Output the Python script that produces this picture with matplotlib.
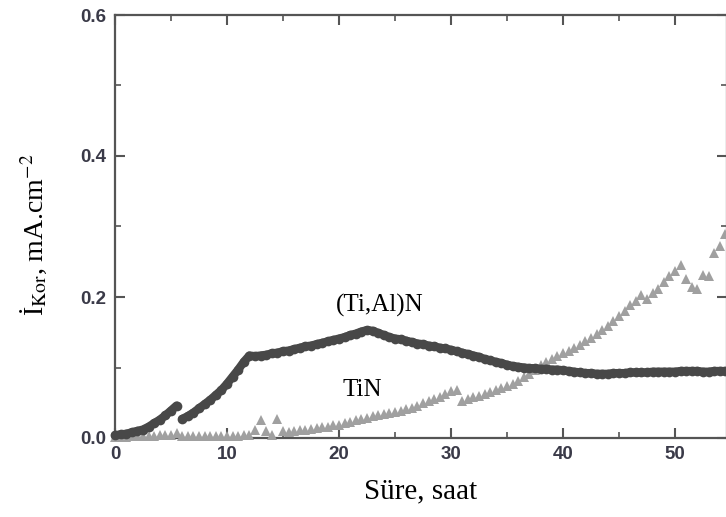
import matplotlib
matplotlib.use("Agg")
import matplotlib.pyplot as plt
from matplotlib.ticker import MultipleLocator

# (Ti,Al)N kaplama - iki parca (5.5 saatte kesinti)
tial_t1 = [0, 0.5, 1.0, 1.5, 2.0, 2.5, 3.0, 3.5, 4.0, 4.5, 5.0, 5.5]
tial_i1 = [0.004, 0.005, 0.006, 0.008, 0.010, 0.012, 0.016, 0.021, 0.026, 0.032, 0.039, 0.046]

tial_t2 = [6.0, 6.5, 7.0, 7.5, 8.0, 8.5, 9.0, 9.5, 10.0, 10.5, 11.0, 11.5, 12.0, 12.5,
           13.0, 13.5, 14.0, 14.5, 15.0, 15.5, 16.0, 16.5, 17.0, 17.5, 18.0, 18.5, 19.0,
           19.5, 20.0, 20.5, 21.0, 21.5, 22.0, 22.5, 23.0, 23.5, 24.0, 24.5, 25.0, 25.5,
           26.0, 26.5, 27.0, 27.5, 28.0, 28.5, 29.0, 29.5, 30.0, 30.5, 31.0, 31.5, 32.0,
           32.5, 33.0, 33.5, 34.0, 34.5, 35.0, 35.5, 36.0, 36.5, 37.0, 37.5, 38.0, 38.5,
           39.0, 39.5, 40.0, 40.5, 41.0, 41.5, 42.0, 42.5, 43.0, 43.5, 44.0, 44.5, 45.0,
           45.5, 46.0, 46.5, 47.0, 47.5, 48.0, 48.5, 49.0, 49.5, 50.0, 50.5, 51.0, 51.5,
           52.0, 52.5, 53.0, 53.5, 54.0, 54.5]
tial_i2 = [0.027, 0.031, 0.036, 0.042, 0.048, 0.054, 0.061, 0.068, 0.077, 0.087, 0.097,
           0.108, 0.117, 0.116, 0.117, 0.118, 0.120, 0.121, 0.123, 0.124, 0.126, 0.128,
           0.130, 0.131, 0.133, 0.135, 0.137, 0.139, 0.141, 0.143, 0.146, 0.148, 0.151,
           0.153, 0.152, 0.149, 0.146, 0.143, 0.141, 0.140, 0.138, 0.136, 0.134, 0.133,
           0.131, 0.130, 0.128, 0.127, 0.125, 0.123, 0.121, 0.119, 0.117, 0.115, 0.112,
           0.110, 0.108, 0.106, 0.104, 0.102, 0.101, 0.100, 0.099, 0.099, 0.098, 0.098,
           0.097, 0.097, 0.096, 0.095, 0.094, 0.093, 0.092, 0.092, 0.091, 0.091, 0.091,
           0.092, 0.092, 0.092, 0.093, 0.093, 0.093, 0.093, 0.094, 0.094, 0.094, 0.094,
           0.094, 0.095, 0.095, 0.095, 0.095, 0.094, 0.094, 0.095, 0.095, 0.095]

# TiN kaplama
tin_t = [0, 0.5, 1.0, 1.5, 2.0, 2.5, 3.0, 3.5, 4.0, 4.5, 5.0, 5.5, 6.0, 6.5, 7.0, 7.5,
         8.0, 8.5, 9.0, 9.5, 10.0, 10.5, 11.0, 11.5, 12.0, 12.5, 13.0, 13.5, 14.0, 14.5,
         15.0, 15.5, 16.0, 16.5, 17.0, 17.5, 18.0, 18.5, 19.0, 19.5, 20.0, 20.5, 21.0,
         21.5, 22.0, 22.5, 23.0, 23.5, 24.0, 24.5, 25.0, 25.5, 26.0, 26.5, 27.0, 27.5,
         28.0, 28.5, 29.0, 29.5, 30.0, 30.5, 31.0, 31.5, 32.0, 32.5, 33.0, 33.5, 34.0,
         34.5, 35.0, 35.5, 36.0, 36.5, 37.0, 37.5, 38.0, 38.5, 39.0, 39.5, 40.0, 40.5,
         41.0, 41.5, 42.0, 42.5, 43.0, 43.5, 44.0, 44.5, 45.0, 45.5, 46.0, 46.5, 47.0,
         47.5, 48.0, 48.5, 49.0, 49.5, 50.0, 50.5, 51.0, 51.5, 52.0, 52.5, 53.0, 53.5,
         54.0, 54.5]
tin_i = [0.002, 0.002, 0.002, 0.003, 0.003, 0.003, 0.003, 0.003, 0.004, 0.004, 0.004,
         0.007, 0.003, 0.003, 0.003, 0.003, 0.003, 0.003, 0.003, 0.003, 0.003, 0.003,
         0.003, 0.004, 0.004, 0.012, 0.026, 0.010, 0.004, 0.027, 0.010, 0.008, 0.010,
         0.011, 0.012, 0.013, 0.014, 0.015, 0.016, 0.018, 0.019, 0.021, 0.023, 0.025,
         0.027, 0.029, 0.031, 0.032, 0.034, 0.035, 0.037, 0.039, 0.041, 0.043, 0.046,
         0.049, 0.052, 0.055, 0.058, 0.062, 0.066, 0.068, 0.052, 0.055, 0.058, 0.060,
         0.063, 0.065, 0.068, 0.071, 0.074, 0.077, 0.081, 0.086, 0.091, 0.097, 0.103,
         0.108, 0.112, 0.116, 0.120, 0.124, 0.128, 0.132, 0.137, 0.142, 0.147, 0.153,
         0.159, 0.166, 0.173, 0.180, 0.188, 0.195, 0.203, 0.197, 0.205, 0.212, 0.221,
         0.230, 0.237, 0.245, 0.226, 0.214, 0.211, 0.231, 0.230, 0.262, 0.272, 0.290]

x_ticks = [0, 10, 20, 30, 40, 50]
y_ticks = [0.0, 0.2, 0.4, 0.6]
y_ticklabels = ['0.0', '0.2', '0.4', '0.6']

plt.rcParams['mathtext.fontset'] = 'stix'

fig = plt.figure(figsize=(7.26, 5.17), dpi=100)
# sag kenar resimde kesik, eksen biraz disari tasiyor
ax = fig.add_axes([115 / 726, 79 / 517, 612 / 726, 423 / 517])

dark = '#484848'
light = '#a0a0a0'
ax.plot(tin_t, tin_i, linestyle='none', marker='^', markersize=7.5,
        color=light, markeredgewidth=0, clip_on=False, zorder=3)
for tt, ii in [(tial_t1, tial_i1), (tial_t2, tial_i2)]:
    ax.plot(tt, ii, linestyle='-', linewidth=6, marker='o', markersize=7,
            color=dark, markeredgewidth=0, clip_on=False, zorder=4,
            solid_capstyle='round')

ax.set_xlim(0, 612 / 11.2)
ax.set_ylim(0, 0.6)
ax.set_xticks(x_ticks)
ax.set_yticks(y_ticks)
ax.set_yticklabels(y_ticklabels)
ax.xaxis.set_minor_locator(MultipleLocator(5))
ax.yaxis.set_minor_locator(MultipleLocator(0.1))
ax.tick_params(which='both', direction='in', top=True, right=True,
               color='#555555', labelsize=13.5, labelcolor='#3a3a48')
ax.tick_params(which='major', length=7, width=1.5)
ax.tick_params(which='minor', length=4, width=1.2)
ax.tick_params(axis='y', pad=6)
ax.tick_params(axis='x', pad=6)
for lbl in ax.get_xticklabels() + ax.get_yticklabels():
    lbl.set_fontfamily('Liberation Sans')
    lbl.set_fontweight('bold')
for s in ax.spines.values():
    s.set_color('#555555')
    s.set_linewidth(1.6)

ax.set_xlabel('Süre, saat', fontfamily='Liberation Serif', fontsize=21)
ax.xaxis.set_label_coords(0.5, -0.095)
ax.set_ylabel('İ$_{\\mathrm{Kor}}$, mA.cm$^{\\mathrm{-2}}$', fontfamily='Liberation Serif',
              fontsize=20)
ax.yaxis.set_label_coords(-0.108, 0.48)

ax.text(23.6, 0.188, '(Ti,Al)N', fontfamily='Liberation Serif', fontsize=18,
        ha='center', va='center')
ax.text(22.1, 0.068, 'TiN', fontfamily='Liberation Serif', fontsize=18,
        ha='center', va='center')

fig.savefig('out.png', dpi=100)
